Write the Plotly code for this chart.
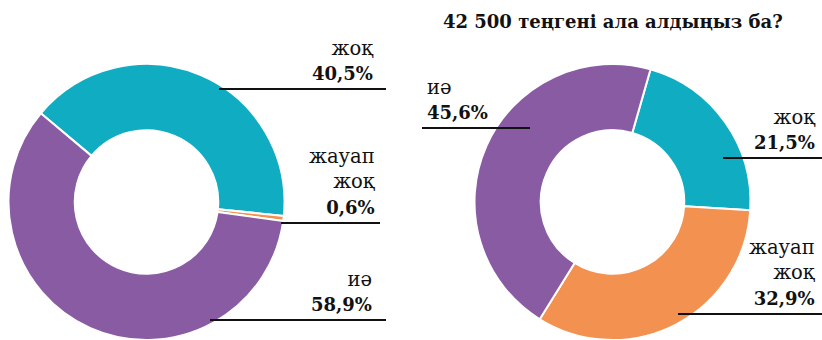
import plotly.graph_objects as go

# Survey answers, two donut charts
categories = ["жоқ", "жауап жоқ", "иә"]
values_left = [40.5, 0.6, 58.9]
values_right = [21.5, 32.9, 45.6]
colors = ["#10ADC2", "#F39150", "#895BA3"]
right_title = "42 500 теңгені ала алдыңыз ба?"

label_left = ["жоқ", "жауап<br>жоқ", "иә"]
label_right = ["жоқ", "жауап<br>жоқ", "иә"]

W, H = 822, 340
FONT = "DejaVu Serif"


def px(x):
    return x / W


def py(y):
    return 1 - y / H


def pct(v):
    return f"{v:.1f}".replace(".", ",") + "%"


fig = go.Figure()

fig.add_trace(go.Pie(
    labels=categories, values=values_left, sort=False, direction="clockwise",
    rotation=-50, hole=0.52, textinfo="none", showlegend=False,
    marker=dict(colors=colors, line=dict(color="white", width=2)),
    domain=dict(x=[px(7), px(286)], y=[0, py(64)]),
))
fig.add_trace(go.Pie(
    labels=categories, values=values_right, sort=False, direction="clockwise",
    rotation=16, hole=0.52, textinfo="none", showlegend=False,
    marker=dict(colors=colors, line=dict(color="white", width=2)),
    domain=dict(x=[px(473), px(752)], y=[0, py(64)]),
))

# label layout: (text x, leader y, leader x0, leader x1, anchor)
left_layout = [
    (376, 89, 219, 386, "right"),
    (378, 223, 281, 380, "right"),
    (374, 320, 210, 386, "right"),
]
right_layout = [
    (818, 158, 723, 822, "right"),
    (818, 314, 678, 822, "right"),
    (425, 128, 422, 530, "left"),
]

shapes = []
annotations = []
for names, vals, layout in ((label_left, values_left, left_layout),
                            (label_right, values_right, right_layout)):
    for name, v, (tx, ly, x0, x1, anchor) in zip(names, vals, layout):
        annotations.append(dict(
            x=px(tx), y=py(ly - 3), xref="paper", yref="paper",
            xanchor=anchor, yanchor="bottom", align=anchor, showarrow=False,
            text=f"{name}<br><b><span style='font-size:18px'>{pct(v)}</span></b>",
            font=dict(family=FONT, size=19.5, color="#111111"),
        ))
        shapes.append(dict(
            type="line", xref="paper", yref="paper",
            x0=px(x0), x1=px(x1), y0=py(ly), y1=py(ly),
            line=dict(color="#111111", width=2),
        ))

annotations.append(dict(
    x=px(613), y=py(21), xref="paper", yref="paper",
    xanchor="center", yanchor="middle", showarrow=False,
    text=f"<b>{right_title}</b>",
    font=dict(family=FONT, size=18, color="#111111"),
))

fig.update_layout(
    width=W, height=H,
    margin=dict(l=0, r=0, t=0, b=0),
    paper_bgcolor="white", plot_bgcolor="white",
    shapes=shapes, annotations=annotations,
)

fig.write_html("out.html")
